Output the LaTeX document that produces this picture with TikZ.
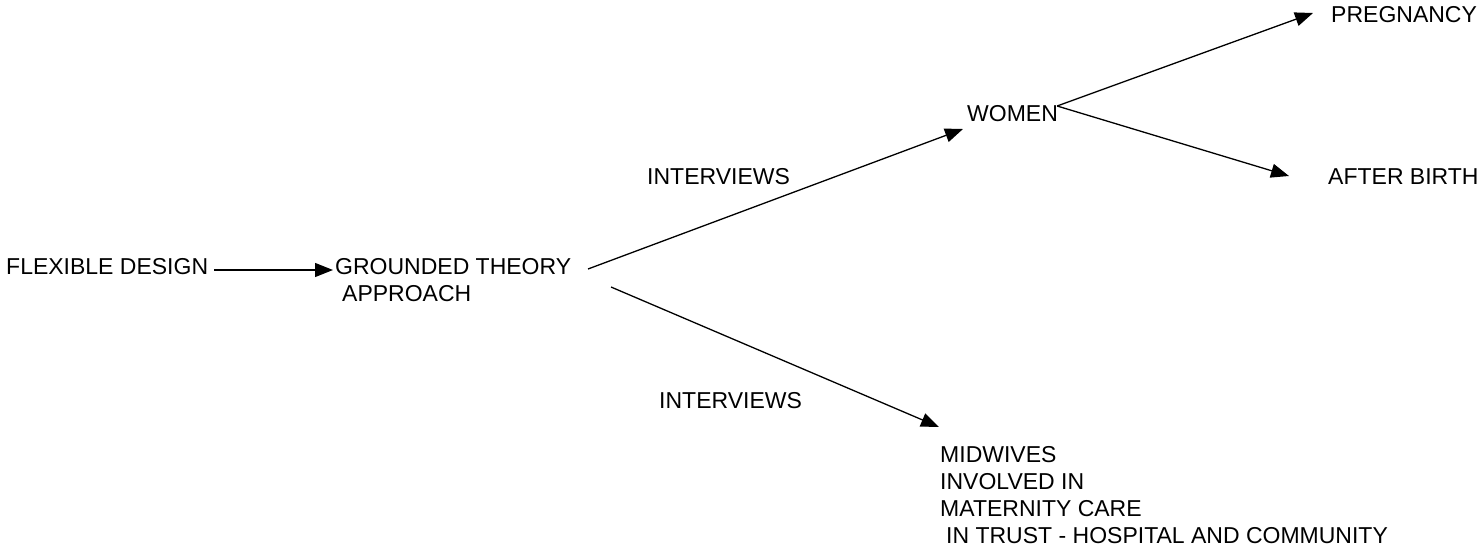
\documentclass[tikz,border=0pt]{standalone}
\usepackage{fontspec}
\setmainfont{Liberation Sans}
\usetikzlibrary{arrows.meta}
\begin{document}
\begin{tikzpicture}[x=1pt,y=-1pt,
  lbl/.style={inner sep=0pt, anchor=base west, font=\fontsize{23}{27}\selectfont, align=left},
  conn/.style={line width=1.3pt, -{Triangle[length=18pt,width=14pt]}}]
\useasboundingbox (0,0) rectangle (1479,545);
\node[lbl] (flex) at (6,274) {FLEXIBLE DESIGN};
\node[lbl] (gta) at (335,301) {GROUNDED THEORY\\\hspace*{7pt}APPROACH};
\node[lbl] (int1) at (647,185) {INTERVIEWS};
\node[lbl] (int2) at (659,408) {INTERVIEWS};
\node[lbl] (women) at (967,122) {WOMEN};
\node[lbl] (preg) at (1331,23) {PREGNANCY};
\node[lbl] (after) at (1328,185) {AFTER BIRTH};
\node[lbl] (mid) at (940,543) {MIDWIVES\\INVOLVED IN\\MATERNITY CARE\\\hspace*{6pt}IN TRUST - HOSPITAL AND COMMUNITY};
\draw[conn] ([xshift=6pt,yshift=4pt]flex.base east) -- ([xshift=-2pt,yshift=31pt]gta.base west);
\draw[conn] ([xshift=253pt,yshift=32pt]gta.base west) -- ([xshift=-4pt,yshift=-7pt]women.base west);
\draw[conn] ([xshift=276pt,yshift=14pt]gta.base west) -- ([xshift=-1pt,yshift=116pt]mid.base west);
\draw[conn] ([xshift=-1pt,yshift=16pt]women.base east) -- ([xshift=-18pt,yshift=10pt]preg.base west);
\draw[conn] ([xshift=-1pt,yshift=16pt]women.base east) -- ([xshift=-39pt,yshift=9pt]after.base west);
\end{tikzpicture}
\end{document}
